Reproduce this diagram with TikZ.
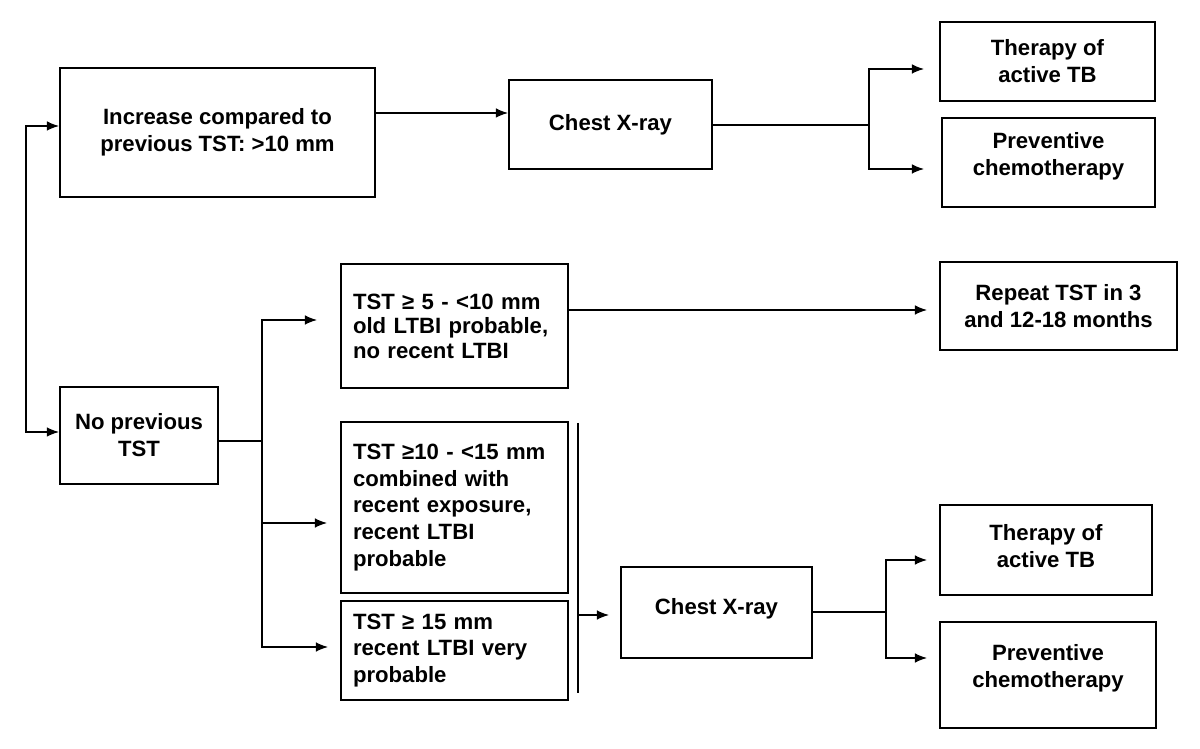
\documentclass[tikz,border=0pt]{standalone}
\usepackage{fontspec}
\setmainfont{Liberation Sans}
\usetikzlibrary{arrows.meta}
\tikzset{
	box/.style={draw, line width=1pt, inner sep=0pt, align=center,
		font=\bfseries\fontsize{12.6}{15.3}\selectfont},
	tstbox/.style={box, align=left, text width=4.06cm},
	link/.style={line width=0.9pt},
	arr/.style={link, -{Latex[length=7pt,width=5.5pt]}},
	arrboth/.style={link, {Latex[length=7pt,width=5.5pt]}-{Latex[length=7pt,width=5.5pt]}},
}
\begin{document}
\begin{tikzpicture}[x=0.02cm,y=-0.02cm]
	\useasboundingbox (0,0) rectangle (1200,749);
	% upper branch
	\node[box, minimum width=6.3cm, minimum height=2.58cm] (inc) at(217.5,132.5){Increase compared to\\previous TST: >10 mm};
	\node[box, minimum width=4.06cm, minimum height=1.78cm] (cxr1) at(610.5,124.5){Chest X-ray};
	\node[box, minimum width=4.3cm, minimum height=1.58cm] (thr1) at(1047.5,61.5){Therapy of\\active TB};
	\node[box, minimum width=4.26cm, minimum height=1.78cm, text depth=9.5pt] (prev1) at(1048.5,162.5){Preventive\\chemotherapy};
	% lower branch
	\node[box, minimum width=3.16cm, minimum height=1.94cm] (nop) at(139,435.5){No previous\\TST};
	\node[tstbox, minimum width=4.54cm, minimum height=2.48cm,
		font=\bfseries\fontsize{12.6}{14}\selectfont] (tst5) at(454.5,326){TST ≥ 5 - <10 mm\\old LTBI probable,\\no recent LTBI};
	\node[box, minimum width=4.74cm, minimum height=1.76cm] (rep) at(1058.5,306){Repeat TST in 3\\and 12-18 months};
	\node[tstbox, minimum width=4.54cm, minimum height=3.42cm] (tst10) at(454.5,507.5){TST ≥10 - <15 mm\\combined with\\recent exposure,\\recent LTBI\\probable};
	\node[tstbox, minimum width=4.54cm, minimum height=1.98cm] (tst15) at(454.5,650.5){TST ≥ 15 mm\\recent LTBI very\\probable};
	\node[box, minimum width=3.82cm, minimum height=1.82cm, text depth=7pt] (cxr2) at(716.5,612.5){Chest X-ray};
	\node[box, minimum width=4.24cm, minimum height=1.8cm, text depth=4.5pt] (thr2) at(1046,550){Therapy of\\active TB};
	\node[box, minimum width=4.32cm, minimum height=2.12cm, text depth=10.5pt] (prev2) at(1048,675){Preventive\\chemotherapy};
	% forks
	\coordinate (f1) at(869,125);
	\coordinate (f2) at(262,441);
	\coordinate (f3) at(886,612);
	\coordinate (bt) at(578,423);
	\coordinate (bb) at(578,693);
	\draw[arrboth] (inc.west |- 0,126) -| (26,432) -- (nop.west |- 0,432);
	\draw[arr] (inc.east |- 0,113) -- (cxr1.west |- 0,113);
	\draw[link] (cxr1.east |- f1) -- (f1);
	\draw[arr, shorten >=0.3cm] (f1) |- (thr1.west |- 0,69);
	\draw[arr, shorten >=0.34cm] (f1) |- (prev1.west |- 0,169);
	\draw[link] (nop.east |- f2) -- (f2);
	\draw[arr, shorten >=0.46cm] (f2) |- (tst5.west |- 0,320);
	\draw[arr, shorten >=0.26cm] (f2) |- (tst10.west |- 0,523);
	\draw[arr, shorten >=0.24cm] (f2) |- (tst15.west |- 0,647);
	\draw[arr, shorten >=0.24cm] (tst5.east |- 0,310) -- (rep.west |- 0,310);
	\draw[link] (bt) -- (bb);
	\draw[arr, shorten >=0.22cm] (bt |- 0,615) -- (cxr2.west |- 0,615);
	\draw[link] (cxr2.east |- f3) -- (f3);
	\draw[arr, shorten >=0.24cm] (f3) |- (thr2.west |- 0,560);
	\draw[arr, shorten >=0.24cm] (f3) |- (prev2.west |- 0,658);
\end{tikzpicture}
\end{document}
